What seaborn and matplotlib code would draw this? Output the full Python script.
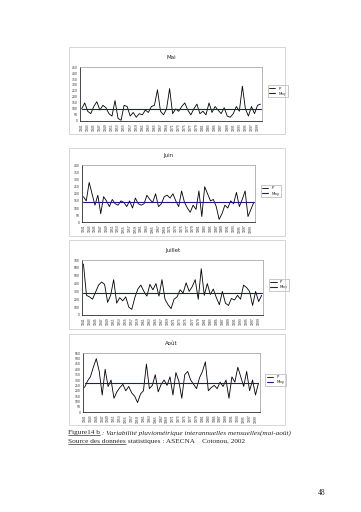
# Figure 14 b : variabilite pluviometrique interannuelle mensuelle (mai-aout)
import numpy as np
import pandas as pd
import seaborn as sns
import matplotlib.pyplot as plt
from matplotlib.patches import Rectangle

# ----------------------------------------------------------
# data (mm)
# ----------------------------------------------------------
years = list(range(1941, 2001))

mai = [100, 150, 80, 60, 120, 160, 90, 130, 110, 60, 40, 170, 20, 5, 130, 120,
       40, 70, 30, 60, 50, 90, 70, 120, 130, 260, 80, 50, 100, 270, 60, 100,
       80, 120, 150, 90, 50, 100, 140, 60, 80, 50, 150, 70, 120, 90, 60, 110,
       40, 30, 60, 120, 80, 290, 100, 40, 120, 60, 130, 140]

juin = [180, 150, 280, 200, 120, 190, 60, 180, 150, 110, 160, 130, 120, 150,
        140, 110, 150, 100, 170, 130, 120, 130, 190, 160, 140, 200, 110, 130,
        180, 190, 170, 200, 150, 110, 220, 140, 100, 70, 120, 90, 220, 40, 250,
        200, 150, 160, 110, 20, 60, 120, 100, 150, 130, 210, 110, 160, 220, 40,
        90, 140]

juillet = [650, 250, 230, 200, 290, 380, 420, 390, 160, 250, 450, 150, 220,
           180, 230, 100, 70, 220, 330, 380, 300, 240, 390, 320, 400, 240, 450,
           200, 130, 80, 200, 230, 320, 280, 410, 300, 360, 450, 200, 590, 250,
           400, 260, 330, 220, 130, 300, 150, 120, 210, 190, 250, 200, 380, 350,
           300, 120, 300, 170, 250]

aout = [230, 290, 330, 420, 500, 380, 160, 400, 240, 300, 130, 190, 230, 260,
        200, 240, 180, 150, 90, 170, 200, 450, 220, 250, 350, 190, 260, 300,
        250, 330, 160, 370, 290, 130, 350, 380, 300, 260, 220, 320, 380, 470,
        200, 230, 250, 220, 280, 240, 300, 130, 330, 280, 420, 330, 240, 380,
        200, 300, 160, 270]

months = ['Mai', 'Juin', 'Juillet', 'Août']
series = [mai, juin, juillet, aout]
ylims = [(0, 450), (0, 400), (0, 700), (0, 550)]
ysteps = [50, 50, 100, 50]

# axes boxes in figure fraction (left, bottom, width, height)
boxes = [(0.222, 0.764, 0.504, 0.105),
         (0.227, 0.566, 0.480, 0.111),
         (0.227, 0.385, 0.502, 0.107),
         (0.230, 0.195, 0.490, 0.115)]
frames = [(0.19, 0.738, 0.60, 0.170),
          (0.19, 0.540, 0.60, 0.170),
          (0.19, 0.357, 0.60, 0.175),
          (0.19, 0.170, 0.60, 0.178)]

# ----------------------------------------------------------
# main
# ----------------------------------------------------------
sns.set_style('white')
plt.rcParams['font.family'] = ['DejaVu Sans']
fig = plt.figure(figsize=(3.61, 5.12), dpi=100)

for name, vals, lim, step, box, frm in zip(months, series, ylims, ysteps,
                                            boxes, frames):
    df = pd.DataFrame({'annee': years, 'P': vals})
    df['Moy'] = np.mean(vals)
    fig.patches.append(Rectangle(frm[:2], frm[2], frm[3], transform=fig.transFigure,
                                 fill=False, edgecolor='#cfcfcf', linewidth=0.6))
    ax = fig.add_axes(box)
    sns.lineplot(data=df, x='annee', y='P', color='black', linewidth=0.6,
                 label='P', ax=ax)
    sns.lineplot(data=df, x='annee', y='Moy', color='#1a1a8c', linewidth=0.8,
                 label='Moy', ax=ax)
    ax.set_xlim(years[0] - 0.5, years[-1] + 0.5)
    ax.set_ylim(*lim)
    ax.set_yticks(range(lim[0], lim[1] + 1, step))
    ax.set_xticks(years[::2])
    ax.set_xticklabels([str(y) for y in years[::2]], rotation=90)
    ax.tick_params(labelsize=2.2, length=1, width=0.3, pad=0.8)
    ax.set_xlabel('')
    ax.set_ylabel('')
    for s in ['left', 'bottom']:
        ax.spines[s].set_color('black')
        ax.spines[s].set_linewidth(0.5)
    for s in ['top', 'right']:
        ax.spines[s].set_color('#999999')
        ax.spines[s].set_linewidth(0.5)
    ax.set_title(name, fontsize=4, pad=6)
    leg = ax.legend(loc='center left', bbox_to_anchor=(1.02, 0.55), fontsize=2.8,
                    handlelength=1.6, frameon=True, borderpad=0.4,
                    labelspacing=0.3)
    leg.get_frame().set_linewidth(0.4)
    leg.get_frame().set_edgecolor('#888888')
    leg.get_frame().set_boxstyle('square', pad=0)

# caption, with underlined lead words
serif = 'Liberation Serif'
fig.canvas.draw()
r = fig.canvas.get_renderer()
t1 = fig.text(0.188, 0.152, 'Figure14 b', fontsize=5.2, family=serif)
w1 = t1.get_window_extent(r).width / fig.bbox.width
fig.text(0.188 + w1, 0.152, ' : Variabilité pluviométrique interannuelles mensuelles(mai-août)',
         fontsize=5.2, family=serif, style='italic')
t2 = fig.text(0.188, 0.134, 'Source des données', fontsize=5.2, family=serif)
w2 = t2.get_window_extent(r).width / fig.bbox.width
fig.text(0.188 + w2, 0.134, ' statistiques : ASECNA    Cotonou, 2002',
         fontsize=5.2, family=serif)
fig.add_artist(plt.Line2D([0.188, 0.188 + w1], [0.150, 0.150], color='black', linewidth=0.4))
fig.add_artist(plt.Line2D([0.188, 0.188 + w2], [0.132, 0.132], color='black', linewidth=0.4))
fig.text(0.88, 0.033, '48', fontsize=5.5, family=serif)

fig.savefig('out.png', dpi=100)
